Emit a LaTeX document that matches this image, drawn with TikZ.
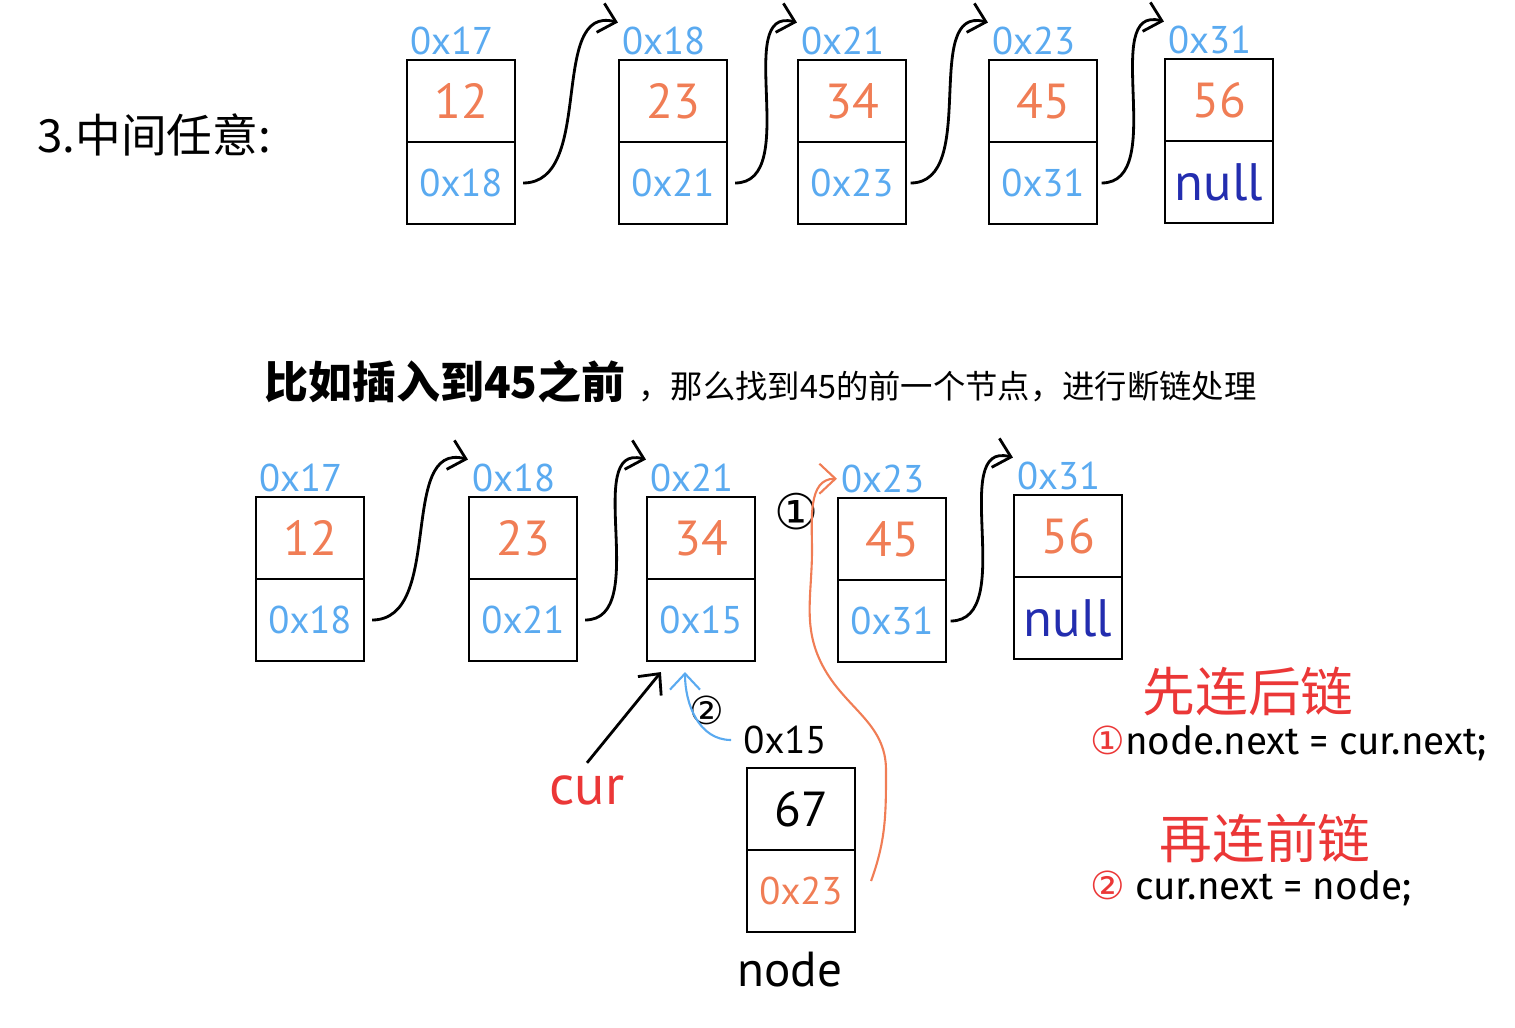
\documentclass[tikz,border=0pt]{standalone}
\usepackage{fontspec}
\setmainfont{PT Sans}
\newfontfamily\cjk{Noto Sans CJK SC}
\newfontfamily\codefont{Fira Sans}
\newfontfamily\symfont{DejaVu Sans}
\usetikzlibrary{arrows.meta}

\definecolor{addrblue}{RGB}{90,170,240}
\definecolor{valorange}{RGB}{240,125,85}
\definecolor{nullblue}{RGB}{35,45,175}
\definecolor{penred}{RGB}{235,55,55}

\begin{document}
\begin{tikzpicture}[node distance=0.82cm, font=\small]
		\tikzstyle{valbox} = [rectangle, draw=black, semithick, minimum width=1.08cm, minimum height=0.82cm, inner sep=0pt, text=valorange, font=\fontsize{14}{14}\selectfont]
		
		\tikzstyle{nextbox} = [valbox, text=addrblue, font=\fontsize{11}{11}\selectfont]
		
		\tikzstyle{addr} = [anchor=south west, inner sep=1pt, text=addrblue, font=\fontsize{11}{11}\selectfont]
		
		\tikzstyle{heading} = [anchor=west, font=\cjk\fontsize{13}{13}\selectfont]
		
		\tikzstyle{rule} = [text=penred, font=\cjk\fontsize{15}{15}\selectfont]
		
		\tikzstyle{code} = [anchor=west, font=\codefont\fontsize{11}{11}\selectfont]
		
		\tikzstyle{link} = [-{Straight Barb[length=1.6mm,width=3mm]}, thick]
		
		\useasboundingbox (0,0) rectangle (15.15,-10.28);
		
		% Titles
		\node (title) [heading] at (0.25,-1.35) {3.中间任意:};
		\node (task) [heading, font=\cjk\bfseries\fontsize{12.5}{12.5}\selectfont] at (2.52,-3.82) {比如插入到45之前};
		\node (taskrest) [anchor=base west, inner sep=0pt, font=\cjk\fontsize{9.2}{9.2}\selectfont] at (task.base east) {，那么找到45的前一个节点，进行断链处理};
		
		% Top list
		\node (v1) [valbox] at (4.61,-1.01) {12};
		\node (n1) [nextbox, below of = v1] {0x18};
		\node (v2) [valbox] at (6.73,-1.01) {23};
		\node (n2) [nextbox, below of = v2] {0x21};
		\node (v3) [valbox] at (8.52,-1.01) {34};
		\node (n3) [nextbox, below of = v3] {0x23};
		\node (v4) [valbox] at (10.43,-1.01) {45};
		\node (n4) [nextbox, below of = v4] {0x31};
		\node (v5) [valbox] at (12.19,-1.00) {56};
		\node (n5) [nextbox, below of = v5, text=nullblue, font=\fontsize{15}{15}\selectfont] {null};
		
		\node (a1) [addr] at (v1.north west) {0x17};
		\node (a2) [addr] at (v2.north west) {0x18};
		\node (a3) [addr] at (v3.north west) {0x21};
		\node (a4) [addr] at (v4.north west) {0x23};
		\node (a5) [addr] at (v5.north west) {0x31};
		
		% Bottom list
		\node (bv1) [valbox] at (3.10,-5.38) {12};
		\node (bn1) [nextbox, below of = bv1] {0x18};
		\node (bv2) [valbox] at (5.23,-5.38) {23};
		\node (bn2) [nextbox, below of = bv2] {0x21};
		\node (bv3) [valbox] at (7.01,-5.38) {34};
		\node (bn3) [nextbox, below of = bv3] {0x15};
		\node (bv4) [valbox] at (8.92,-5.39) {45};
		\node (bn4) [nextbox, below of = bv4] {0x31};
		\node (bv5) [valbox] at (10.68,-5.36) {56};
		\node (bn5) [nextbox, below of = bv5, text=nullblue, font=\fontsize{15}{15}\selectfont] {null};
		
		\node (ba1) [addr] at (bv1.north west) {0x17};
		\node (ba2) [addr] at (bv2.north west) {0x18};
		\node (ba3) [addr] at (bv3.north west) {0x21};
		\node (ba4) [addr] at (bv4.north west) {0x23};
		\node (ba5) [addr] at (bv5.north west) {0x31};
		
		% New node
		\node (v6) [valbox, text=black] at (8.01,-8.09) {67};
		\node (n6) [nextbox, below of = v6, text=valorange] {0x23};
		\node (a6) [font=\fontsize{11}{11}\selectfont] at (7.85,-7.40) {0x15};
		\node (nodename) [font=\fontsize{14}{14}\selectfont] at (7.90,-9.70) {node};
		\node (cur) [text=penred, font=\fontsize{16}{16}\selectfont] at (5.87,-7.90) {cur};
		\node (step1) [font=\symfont\fontsize{14}{14}\selectfont] at (7.97,-5.12) {①};
		\node (step2) [font=\symfont\fontsize{11}{11}\selectfont] at (7.07,-7.10) {②};
		
		% Rules
		\node (rule1) [rule] at (12.48,-6.92) {先连后链};
		\node (code1) [code] at (10.78,-7.43) {{\color{penred}\symfont ①}node.next = cur.next;};
		\node (rule2) [rule] at (12.65,-8.38) {再连前链};
		\node (code2) [code] at (10.78,-8.88) {{\color{penred}\symfont ②} cur.next = node;};
		
		% Arrows
		\draw [link] ([xshift=2pt]n1.east) to[out=0, in=165] (a2.north west);
		\draw [link] ([xshift=2pt]n2.east) to[out=0, in=165] (a3.north west);
		\draw [link] ([xshift=1pt]n3.east) to[out=0, in=165] (a4.north west);
		\draw [link] ([xshift=1pt]n4.east) to[out=0, in=165] (a5.north west);
		
		\draw [link] ([xshift=2pt]bn1.east) to[out=0, in=165] (ba2.north west);
		\draw [link] ([xshift=2pt]bn2.east) to[out=0, in=165] (ba3.north west);
		\draw [link] ([xshift=1pt]bn4.east) to[out=0, in=165] (ba5.north west);
		
		\draw [link, semithick, valorange] ([xshift=0.15cm,yshift=0.1cm]n6.east) to[out=70, in=-90] (8.86,-7.7) to[out=90, in=-60] (8.25,-6.7) to[out=120, in=-90] (8.12,-5.5) to[out=90, in=180] (ba4.west);
		\draw [link, semithick, addrblue] (a6.west) to[out=180, in=-90] ([xshift=-0.16cm,yshift=-0.1cm]bn3.south);
		\draw [link] (cur.north) -- ([xshift=0.15cm,yshift=-0.1cm]bn3.south west);
\end{tikzpicture}
\end{document}
